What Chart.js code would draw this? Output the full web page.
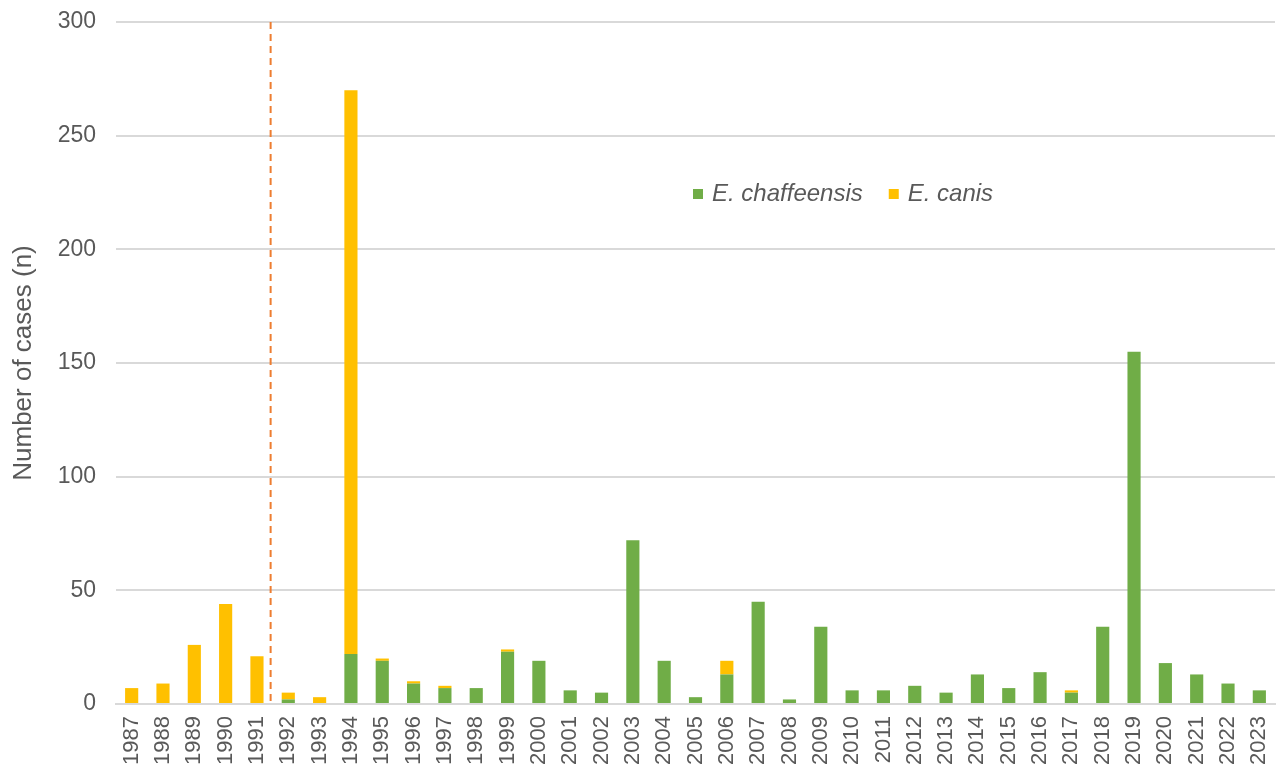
<!DOCTYPE html>
<html>
<head>
<meta charset="utf-8">
<script src="https://cdn.jsdelivr.net/npm/chart.js@4/dist/chart.umd.min.js"></script>
<style>
  html, body { margin: 0; padding: 0; background: #ffffff; }
  #wrap { width: 1279px; height: 772px; position: relative; }
</style>
</head>
<body>
<div id="wrap"><canvas id="c" width="1279" height="772"></canvas></div>
<script>
const years = ['1987','1988','1989','1990','1991','1992','1993','1994','1995','1996','1997','1998','1999',
  '2000','2001','2002','2003','2004','2005','2006','2007','2008','2009','2010','2011','2012','2013',
  '2014','2015','2016','2017','2018','2019','2020','2021','2022','2023'];
const chaffeensis = [0,0,0,0,0,2,0,22,19,9,7,7,23,19,6,5,72,19,3,13,45,2,34,6,6,8,5,13,7,14,5,34,155,18,13,9,6];
const canis       = [7,9,26,44,21,3,3,248,1,1,1,0,1,0,0,0,0,0,0,6,0,0,0,0,0,0,0,0,0,0,1,0,0,0,0,0,0];
const yTicks = [0,50,100,150,200,250,300];
// Reporting change marked between these two years
const markerBetween = ['1991','1992'];

const textColor = '#595959';
const fontFamily = 'Arial, "Liberation Sans", Helvetica, sans-serif';

const markerLine = {
  id: 'markerLine',
  afterDatasetsDraw(chart) {
    const x = chart.scales.x, y = chart.scales.y, ctx = chart.ctx;
    const i0 = years.indexOf(markerBetween[0]), i1 = years.indexOf(markerBetween[1]);
    const px = (x.getPixelForValue(i0) + x.getPixelForValue(i1)) / 2 - 2;
    ctx.save();
    ctx.strokeStyle = '#ED7D31';
    ctx.lineWidth = 2;
    ctx.setLineDash([7, 5]);
    ctx.beginPath();
    ctx.moveTo(px, y.getPixelForValue(300));
    ctx.lineTo(px, y.getPixelForValue(0));
    ctx.stroke();
    ctx.restore();
  }
};

const inlineLegend = {
  id: 'inlineLegend',
  afterDraw(chart) {
    const ctx = chart.ctx;
    ctx.save();
    ctx.font = 'italic 24px ' + fontFamily;
    ctx.textBaseline = 'middle';
    let xPos = 693;
    const yPos = 194;
    chart.data.datasets.forEach(ds => {
      ctx.fillStyle = ds.backgroundColor;
      ctx.fillRect(xPos, yPos - 5, 10, 10);
      ctx.fillStyle = textColor;
      ctx.fillText(ds.label, xPos + 19, yPos);
      xPos += 19 + ctx.measureText(ds.label).width + 26;
    });
    ctx.restore();
  }
};

new Chart(document.getElementById('c'), {
  type: 'bar',
  data: {
    labels: years,
    datasets: [
      { label: 'E. chaffeensis', data: chaffeensis, backgroundColor: '#70AD47' },
      { label: 'E. canis', data: canis, backgroundColor: '#FFC000' }
    ]
  },
  options: {
    responsive: false,
    animation: false,
    devicePixelRatio: 1,
    layout: { padding: { top: 22, right: 4, left: 0, bottom: 0 } },
    plugins: { legend: { display: false }, tooltip: { enabled: false } },
    datasets: { bar: { categoryPercentage: 1.0, barPercentage: 0.42 } },
    scales: {
      x: {
        stacked: true,
        grid: { display: false, drawTicks: false },
        border: { color: '#d9d9d9', width: 2 },
        ticks: {
          color: textColor,
          font: { size: 22, family: fontFamily },
          minRotation: 90, maxRotation: 90,
          autoSkip: false,
          padding: 12
        },
        afterFit(s) { s.height = 68; s.paddingLeft = 0; s.paddingRight = 0; }
      },
      y: {
        stacked: true,
        min: 0, max: 300,
        afterBuildTicks(s) { s.ticks = yTicks.map(v => ({ value: v })); },
        grid: { color: '#d9d9d9', lineWidth: 2, drawTicks: false },
        border: { display: false },
        ticks: {
          color: textColor,
          font: { size: 23, family: fontFamily },
          padding: 20
        },
        title: {
          display: true,
          text: 'Number of cases (n)',
          color: textColor,
          font: { size: 26, family: fontFamily },
          padding: { top: 8, bottom: 0 }
        },
        afterFit(s) { s.width = 116; s.paddingTop = 0; s.paddingBottom = 0; }
      }
    }
  },
  plugins: [markerLine, inlineLegend]
});
</script>
</body>
</html>
